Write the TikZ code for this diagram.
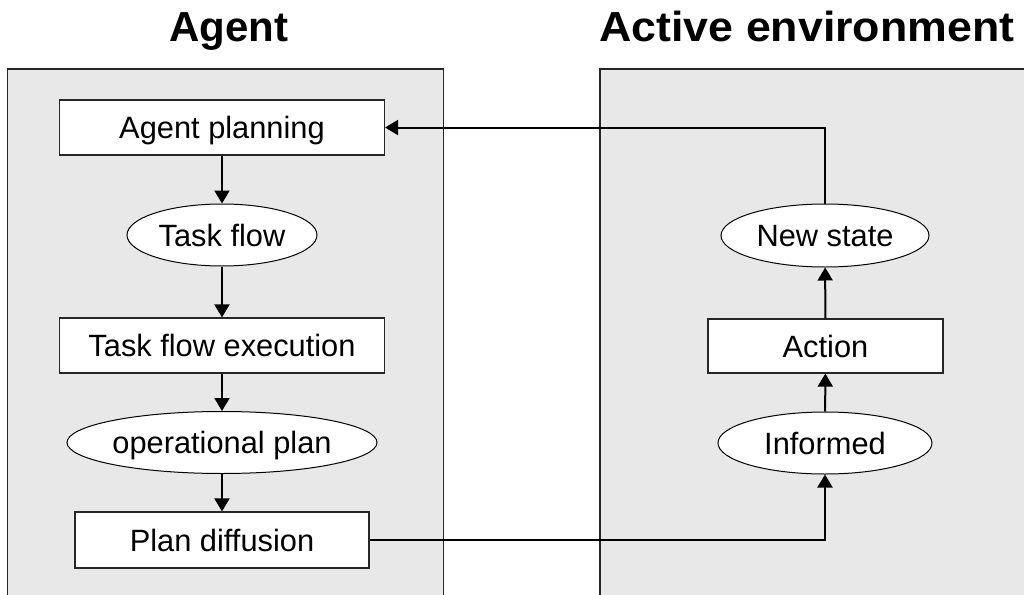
\documentclass[tikz,border=0pt]{standalone}
\usepackage{fontspec}
\usepackage{graphicx}
\setmainfont{Liberation Sans}
\usetikzlibrary{shapes.geometric,arrows.meta}
\tikzset{
  panel/.style={fill=black!9, draw=black!85, line width=0.6pt},
  labeltext/.style={font=\fontsize{15.4}{18}\selectfont, text height=11pt, text depth=0pt},
  stepbox/.style={rectangle, draw=black!85, fill=white, line width=0.6pt, inner sep=0pt, labeltext},
  flowitem/.style={ellipse, draw=black, fill=white, line width=0.5pt, inner sep=0pt, labeltext},
  link/.style={line width=1pt, -{Triangle[length=6.5pt,width=7.5pt]}},
  heading/.style={font=\fontsize{21}{24}\selectfont\bfseries, anchor=base, inner sep=0pt}
}
\begin{document}
\begin{tikzpicture}[x=0.5pt, y=-0.5pt]
  \useasboundingbox (0,0) rectangle (1024,595);
  \clip (0,0) rectangle (1024,595);

  % two panels
  \draw[panel] (7.5,69) rectangle (443.5,620);
  \draw[panel] (600,69) rectangle (1040,620);

  % headings
  \node[heading] (hA) at (229,41) {Agent};
  \node[heading] (hE) at (807,41) {\scalebox{1.065}[1]{Active environment}};

  % agent side
  \node[stepbox, minimum width=162.5pt, minimum height=27.5pt] (ap)  at (222,127.5) {Agent planning};
  \node[flowitem, minimum width=95pt,   minimum height=31pt]   (tf)  at (222,235)   {Task flow};
  \node[stepbox, minimum width=162.5pt, minimum height=27.5pt] (tfe) at (222,345.5) {Task flow execution};
  \node[flowitem, minimum width=133pt,  minimum height=31pt]   (op)  at (222,442.5) {operational plan};
  \node[stepbox, minimum width=147pt,   minimum height=28pt]   (pd)  at (222,540)   {Plan diffusion};

  % environment side
  \node[flowitem, minimum width=104pt,  minimum height=31.5pt] (ns)  at (825,235.5) {New state};
  \node[stepbox, minimum width=117.5pt, minimum height=27pt]   (ac)  at (825.5,346) {Action};
  \node[flowitem, minimum width=107pt,  minimum height=31pt]   (inf) at (825,443)   {Informed};

  % connectors
  \draw[link] (ap) -- (tf);
  \draw[link] (tf) -- (tfe);
  \draw[link] (tfe) -- (op);
  \draw[link] (op) -- (pd);
  \draw[link] (pd.east) -| (inf.south);
  \draw[link] (inf) -- (ac);
  \draw[link] (ac) -- (ns);
  \draw[link] (ns.north) |- (ap.east);
\end{tikzpicture}
\end{document}
